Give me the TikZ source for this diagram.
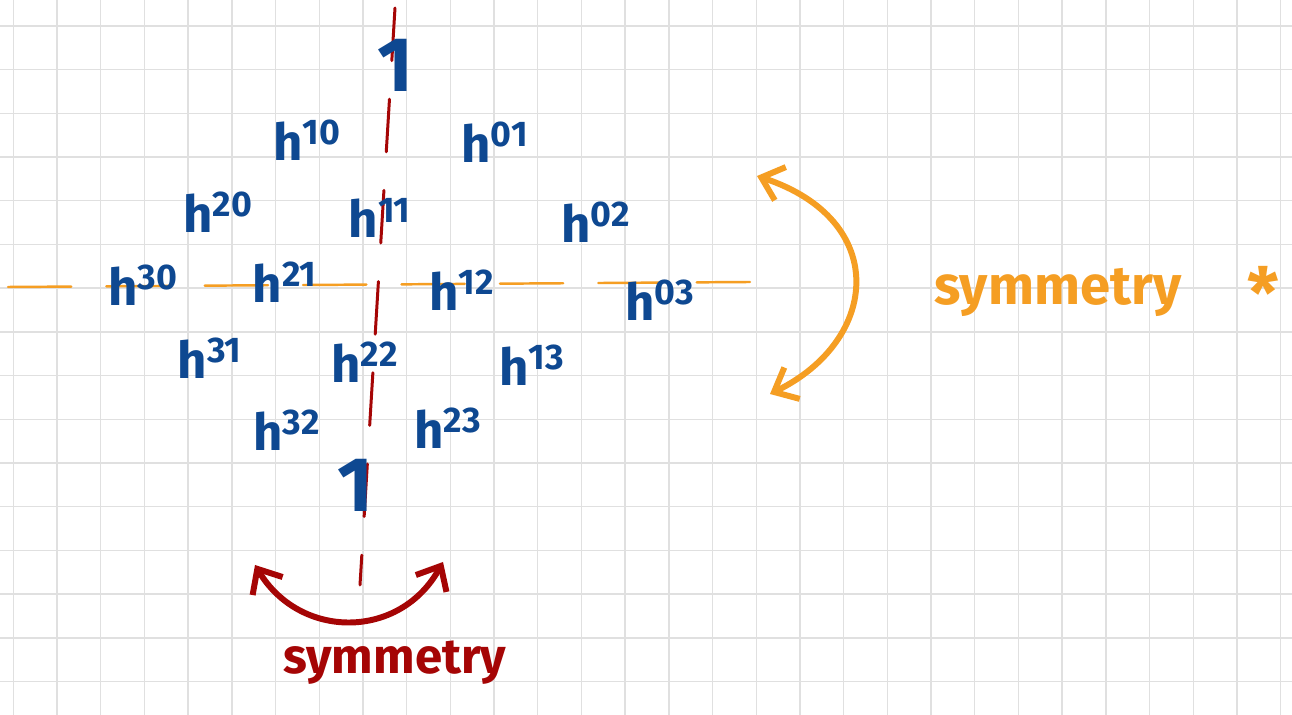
\documentclass[tikz,border=0pt]{standalone}
\usepackage{fontspec}
\setmainfont{Fira Sans}
\usepackage{tikz}
\usetikzlibrary{arrows.meta}
\definecolor{inkblue}{RGB}{14, 72, 145}
\definecolor{inkred}{RGB}{165, 5, 5}
\definecolor{inkorange}{RGB}{245, 158, 35}
\definecolor{gridgray}{RGB}{224, 224, 224}
\tikzset{
  hodge/.style = {text = inkblue, font = \fontsize{29}{29}\selectfont\bfseries, inner sep = 0pt},
  unit/.style = {text = inkblue, font = \fontsize{44}{44}\selectfont\bfseries, inner sep = 0pt},
  note/.style = {font = \fontsize{31}{31}\selectfont\bfseries, inner sep = 0pt},
  swap/.style = {line width = 3.4pt, line cap = round, {Straight Barb[length=4mm, width=7mm, line width=3.4pt]}-{Straight Barb[length=4mm, width=7mm, line width=3.4pt]}}
}

\begin{document}
\begin{tikzpicture}[x = 0.02cm, y = -0.02cm]
			\useasboundingbox (0,0) rectangle (1292,715);
			\fill[white] (0,0) rectangle (1292,715);
			% grid paper
			\foreach \gx in {0,...,29} \draw[gridgray, line width = 0.8pt] ({13.3+43.7*\gx},0) -- ({13.3+43.7*\gx},715);
			\foreach \gy in {0,...,16} \draw[gridgray, line width = 0.8pt] (0,{26+43.7*\gy}) -- (1292,{26+43.7*\gy});
			% symmetry axes
			\coordinate (vtop) at (395,8);
			\coordinate (vbot) at (360,585);
			\coordinate (hleft) at (8,287);
			\coordinate (hright) at (750,282);
			\draw[inkred, line width = 1.7pt, dash pattern = on 30pt off 22pt, line cap = round] (vtop) -- (vbot);
			\draw[inkorange, line width = 1.4pt, dash pattern = on 36pt off 20pt, line cap = round] (hleft) -- (hright);
			% diamond
			\node (t) at (395,65) [unit] {1};
			\node (h10) at (307,140) [hodge] {h\textsuperscript{10}};
			\node (h01) at (495,142) [hodge] {h\textsuperscript{01}};
			\node (h20) at (218,212) [hodge] {h\textsuperscript{20}};
			\node (h11) at (380,218) [hodge] {h\textsuperscript{11}};
			\node (h02) at (596,222) [hodge] {h\textsuperscript{02}};
			\node (h30) at (143,285) [hodge] {h\textsuperscript{30}};
			\node (h21) at (285,282) [hodge] {h\textsuperscript{21}};
			\node (h12) at (462,290) [hodge] {h\textsuperscript{12}};
			\node (h03) at (660,300) [hodge] {h\textsuperscript{03}};
			\node (h31) at (210,358) [hodge] {h\textsuperscript{31}};
			\node (h22) at (365,362) [hodge] {h\textsuperscript{22}};
			\node (h13) at (532,365) [hodge] {h\textsuperscript{13}};
			\node (h32) at (287,430) [hodge] {h\textsuperscript{32}};
			\node (h23) at (448,428) [hodge] {h\textsuperscript{23}};
			\node (b) at (355,485) [unit] {1};
			% symmetries
			\coordinate (oa) at (757,176);
			\coordinate (ob) at (770,394);
			\draw[inkorange, swap] (oa) .. controls (890,220) and (880,340) .. (ob);
			\node (osym) at (1058,292) [note, text = inkorange] {symmetry};
			\node (star) at (1263,292) [note, text = inkorange, font = \fontsize{40}{40}\selectfont\bfseries] {*};
			\coordinate (ra) at (255,565);
			\coordinate (rb) at (443,562);
			\draw[inkred, swap] (ra) .. controls (300,640) and (400,640) .. (rb);
			\node (rsym) at (395,663) [note, text = inkred, font = \fontsize{28}{28}\selectfont\bfseries] {symmetry};
			\end{tikzpicture}
\end{document}
